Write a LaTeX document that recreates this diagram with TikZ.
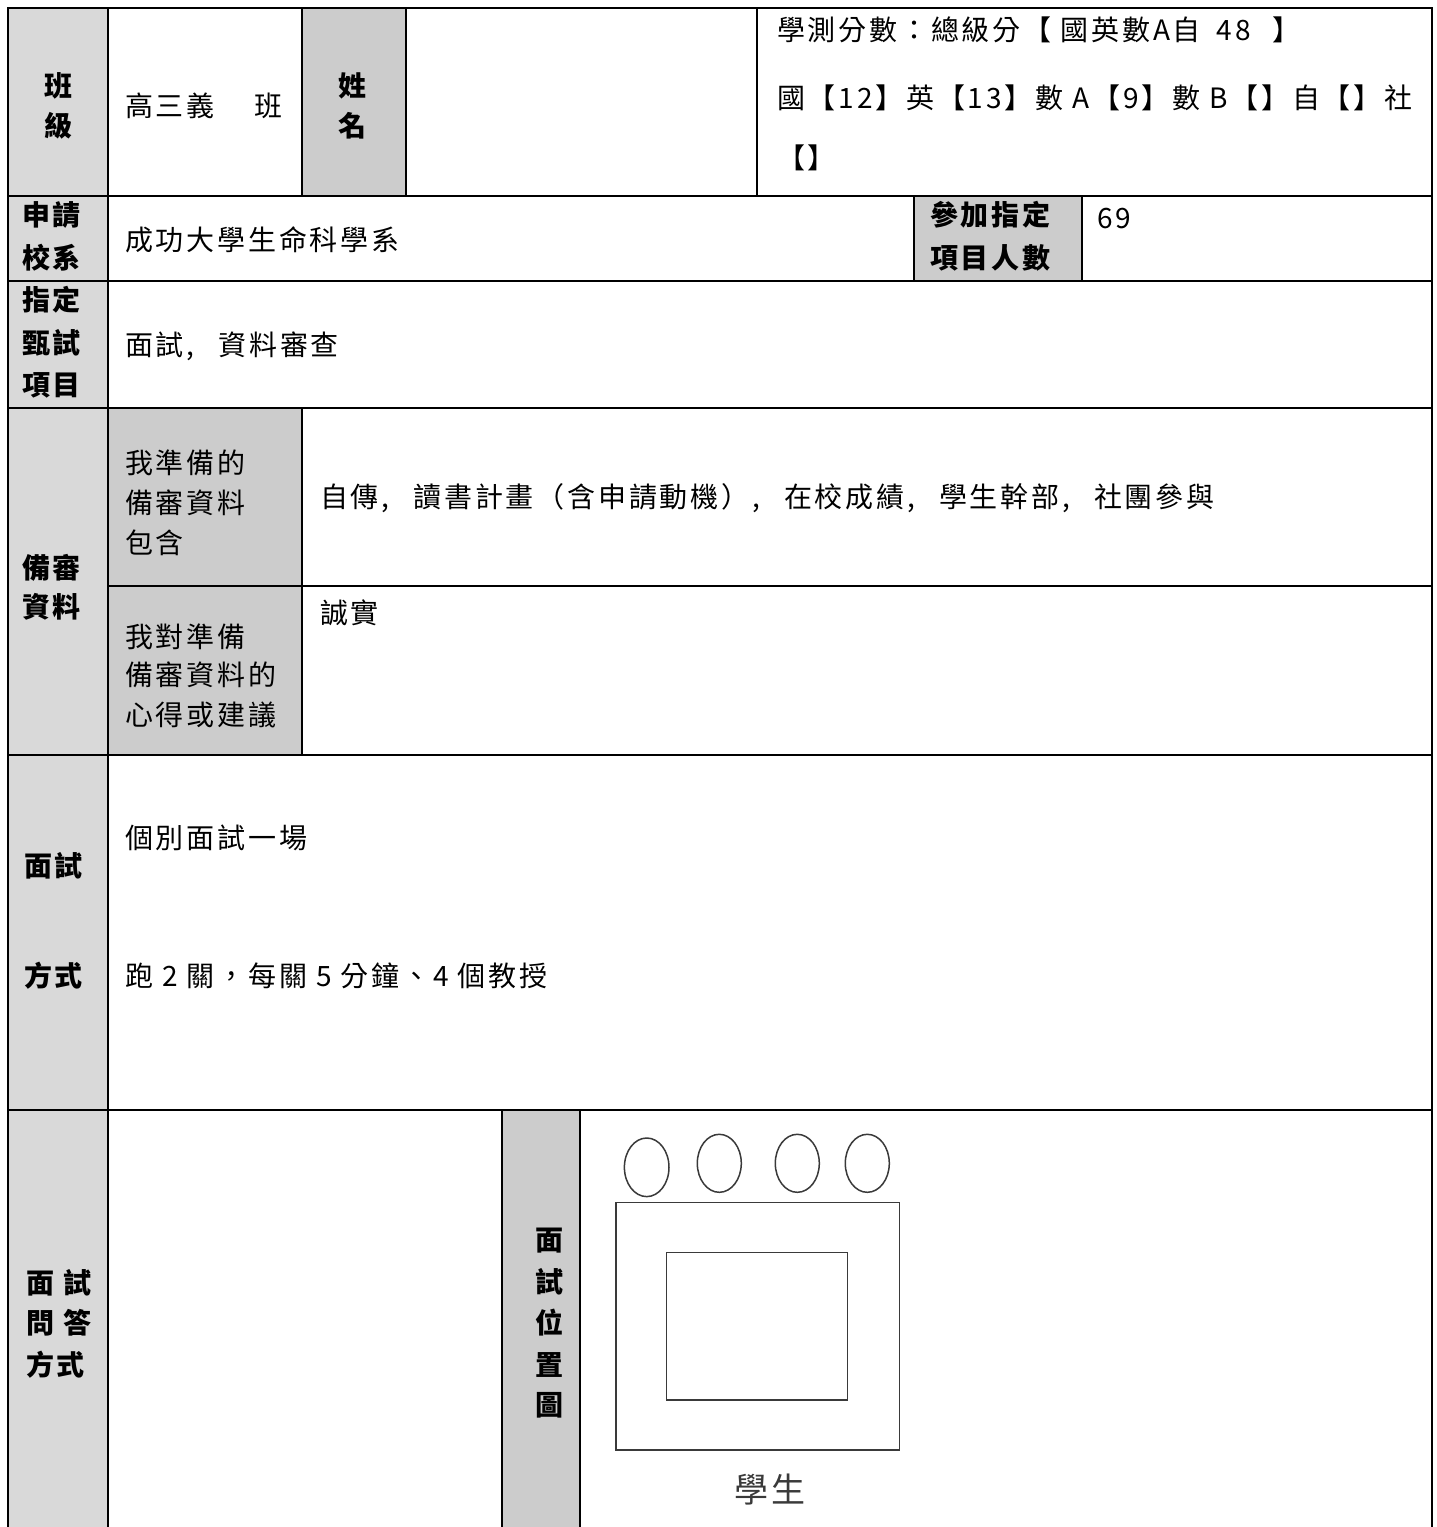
\documentclass[tikz,border=0pt]{standalone}
\usepackage{fontspec}
\setmainfont{Noto Sans CJK TC}[LetterSpace=10]
\definecolor{hdrlight}{HTML}{D9D9D9}
\definecolor{hdrdark}{HTML}{CCCCCC}
\definecolor{sketchgray}{HTML}{3A3A3A}
\newcommand{\cmgap}{,\hspace{24pt}}
\tikzset{
  gridline/.style={line width=2.2pt, black, line cap=rect},
  txt/.style={anchor=base west, inner sep=0pt, font=\fontsize{28}{34}\selectfont},
  hd/.style={anchor=base west, inner sep=0pt, font=\fontsize{28}{34}\selectfont\bfseries},
  hdc/.style={anchor=base, inner sep=0pt, font=\fontsize{28}{34}\selectfont\bfseries},
  sketch/.style={draw=sketchgray, line width=1.5pt},
}
\begin{document}
\begin{tikzpicture}[x=1pt,y=-1pt]
\useasboundingbox (0,0) rectangle (1437,1527);
\fill[white] (0,0) rectangle (1437,1527);
% header fills
\fill[hdrlight] (8,8) rectangle (108,1527);
\fill[hdrdark] (302,8) rectangle (406,196);
\fill[hdrdark] (914,196) rectangle (1082,281);
\fill[hdrdark] (108,408) rectangle (302,755);
\fill[hdrdark] (502,1110) rectangle (580,1527);
% grid
\draw[gridline] (8,1527) -- (8,8) -- (1432,8) -- (1432,1527);
\draw[gridline] (108,8) -- (108,1527);
\foreach \yy in {196,281,408,755,1110} \draw[gridline] (8,\yy) -- (1432,\yy);
\draw[gridline] (108,586) -- (1432,586);
\draw[gridline] (302,8) -- (302,196);
\draw[gridline] (406,8) -- (406,196);
\draw[gridline] (757,8) -- (757,196);
\draw[gridline] (914,196) -- (914,281);
\draw[gridline] (1082,196) -- (1082,281);
\draw[gridline] (302,408) -- (302,755);
\draw[gridline] (502,1110) -- (502,1527);
\draw[gridline] (580,1110) -- (580,1527);
% row 1
\node[hdc] (ban) at (58,96) {班};
\node[hdc] (ji) at (58,136) {級};
\node[txt] (cls) at (125,116) {高三義\hspace{40pt}班};
\node[hdc] (xing) at (352,96) {姓};
\node[hdc] (ming) at (352,136) {名};
\node[txt] (sc1) at (777,40) {學測分數：總級分【 國英數A自\hspace{16pt}48\hspace{22pt}】};
\node[txt] (sc2) at (777,108) {國【12】英【13】數 A【9】數 B【】自【】社};
\node[txt] (sc3) at (777,168) {【】};
% row 2
\node[hd] (sq1) at (22,225) {申請};
\node[hd] (sq2) at (22,268) {校系};
\node[txt] (school) at (125,250) {成功大學生命科學系};
\node[hd] (cj1) at (930,225) {參加指定};
\node[hd] (cj2) at (930,268) {項目人數};
\node[txt] (num) at (1097,228) {69};
% row 3
\node[hd] (zd1) at (22,310) {指定};
\node[hd] (zd2) at (22,353) {甄試};
\node[hd] (zd3) at (22,395) {項目};
\node[txt] (items) at (125,355) {面試\cmgap 資料審查};
% row 4
\node[hd] (bs1) at (22,578) {備審};
\node[hd] (bs2) at (22,617) {資料};
\node[txt] (p1) at (125,473) {我準備的};
\node[txt] (p2) at (125,513) {備審資料};
\node[txt] (p3) at (125,553) {包含};
\node[txt] (plist) at (320,507) {自傳\cmgap 讀書計畫（含申請動機）\cmgap 在校成績\cmgap 學生幹部\cmgap 社團參與};
\node[txt] (q1) at (125,647) {我對準備};
\node[txt] (q2) at (125,685) {備審資料的};
\node[txt] (q3) at (125,725) {心得或建議};
\node[txt] (honest) at (320,623) {誠實};
% row 5
\node[hd] (ms1) at (24,876) {面試};
\node[hd] (ms2) at (24,986) {方式};
\node[txt] (m1) at (125,848) {個別面試一場};
\node[txt] (m2) at (125,986) {跑 2 關，每關 5 分鐘、4 個教授};
% row 6
\node[hd] (qa1) at (26,1293) {面 試};
\node[hd] (qa2) at (26,1333) {問 答};
\node[hd] (qa3) at (26,1375) {方式};
\node[hdc] (w1) at (549,1250) {面};
\node[hdc] (w2) at (549,1292) {試};
\node[hdc] (w3) at (549,1333) {位};
\node[hdc] (w4) at (549,1375) {置};
\node[hdc] (w5) at (549,1415) {圖};
% seating sketch
\draw[sketch] (646.7,1167.3) ellipse [x radius=22.3, y radius=29.3];
\draw[sketch] (719.3,1163.3) ellipse [x radius=22, y radius=29];
\draw[sketch] (797.3,1163.3) ellipse [x radius=22, y radius=29];
\draw[sketch] (867.3,1163.3) ellipse [x radius=22, y radius=29];
\draw[sketch] (616,1202.7) rectangle (899.3,1450);
\draw[sketch] (666.7,1252.7) rectangle (847.3,1400);
\node[anchor=base, inner sep=0pt, font=\fontsize{34}{40}\selectfont, text=sketchgray] (stu) at (770,1502) {學生};
\end{tikzpicture}
\end{document}
